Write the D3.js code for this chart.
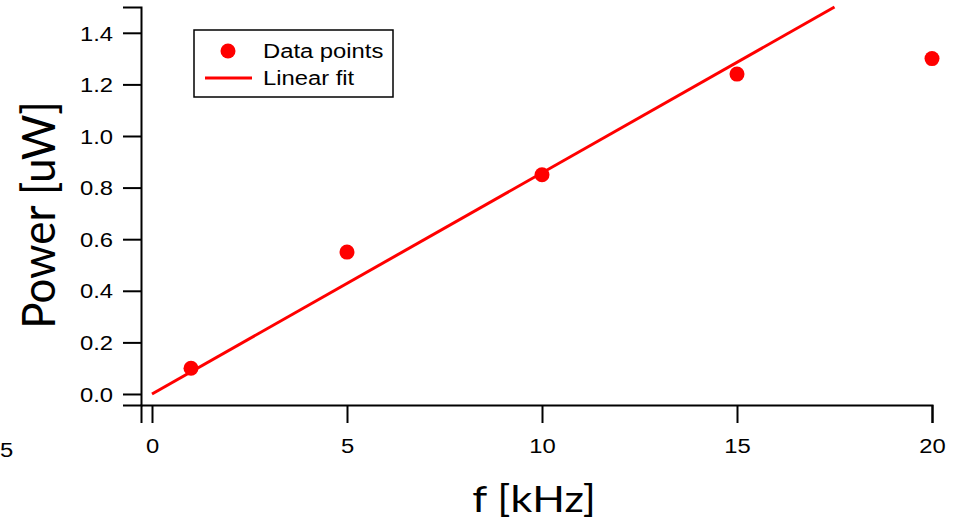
<!DOCTYPE html>
<html><head><meta charset="utf-8">
<script src="https://cdn.jsdelivr.net/npm/d3@7"></script>
<style>body{margin:0;background:#fff}svg{display:block}</style>
</head><body>
<svg id="c" width="961" height="526"></svg>
<script>
const freqs = [1, 5, 10, 15, 20];
const power = [0.10, 0.55, 0.85, 1.24, 1.30];
const fitX = [0, 17.5];
const fitY = [0, 1.5];
const xTicks = [0, 5, 10, 15, 20];
const yTicks = [0, 0.2, 0.4, 0.6, 0.8, 1.0, 1.2, 1.4];
const legendLabels = ["Data points", "Linear fit"];

const svg = d3.select("#c");
const x = d3.scaleLinear().domain([-0.282, 20]).range([141, 932]);
const y = d3.scaleLinear().domain([-0.0427, 1.5]).range([405, 7]);
const red = "#ff0000";
const tickFont = "'Liberation Sans', Arial, Helvetica, sans-serif";
const SX = 1.19; // horizontal stretch of the reference glyphs

const xAxis = svg.append("g").attr("transform", "translate(0,405)")
  .call(d3.axisBottom(x).tickValues(xTicks).tickFormat(d3.format("d")).tickSizeOuter(0).tickSize(18).tickPadding(16));
const yAxis = svg.append("g").attr("transform", "translate(141,0)")
  .call(d3.axisLeft(y).tickValues(yTicks).tickFormat(d3.format(".1f")).tickSizeOuter(0).tickSize(18).tickPadding(10));
[xAxis, yAxis].forEach(g => {
  g.select(".domain").attr("stroke", "#000").attr("stroke-width", 2);
  g.selectAll(".tick line").attr("stroke", "#000").attr("stroke-width", 2);
  g.selectAll(".tick text").attr("fill", "#000").style("font-family", tickFont).style("font-size", "20px")
    .each(function() {
      const t = d3.select(this);
      const tx = +t.attr("x") || 0;
      t.attr("transform", `translate(${tx},0) scale(${SX},1)`).attr("x", 0);
    });
});
yAxis.selectAll(".tick text").attr("dy", "0.36em");

// stray clipped label at far left
svg.append("text").attr("transform", `translate(0,457) scale(${SX},1)`)
  .style("font-family", tickFont).style("font-size", "20px").text("5");

// fit line
svg.append("path")
  .datum(fitX.map((v, i) => [v, fitY[i]]))
  .attr("fill", "none").attr("stroke", red).attr("stroke-width", 3)
  .attr("d", d3.line().x(d => x(d[0])).y(d => y(d[1])));

// points
svg.selectAll("circle.pt").data(freqs.map((v, i) => [v, power[i]])).enter()
  .append("circle").attr("class", "pt")
  .attr("cx", d => x(d[0])).attr("cy", d => y(d[1])).attr("r", 7.5).attr("fill", red);

// axis titles
const titleFont = "Lato, 'Open Sans', sans-serif";
svg.append("text").attr("transform", `translate(534,512) scale(${SX},1)`).attr("text-anchor", "middle")
  .style("font-family", titleFont).style("font-size", "36px").text("f [kHz]");
svg.append("text").attr("transform", `translate(55,215) scale(1.04,1) rotate(-90)`).attr("text-anchor", "middle")
  .style("font-family", titleFont).style("font-size", "44px").text("Power [uW]");

// legend
const lg = svg.append("g");
lg.append("rect").attr("x", 194).attr("y", 30).attr("width", 199).attr("height", 67)
  .attr("fill", "#fff").attr("stroke", "#000").attr("stroke-width", 1.5);
lg.append("circle").attr("cx", 228).attr("cy", 51).attr("r", 7.5).attr("fill", red);
lg.append("line").attr("x1", 205).attr("x2", 252).attr("y1", 78).attr("y2", 78).attr("stroke", red).attr("stroke-width", 3);
lg.selectAll("text.lt").data(legendLabels).enter().append("text").attr("class", "lt")
  .attr("transform", (d, i) => `translate(263,${58 + i * 27}) scale(${SX},1)`)
  .style("font-family", tickFont).style("font-size", "20px").text(d => d);
</script>
</body></html>
